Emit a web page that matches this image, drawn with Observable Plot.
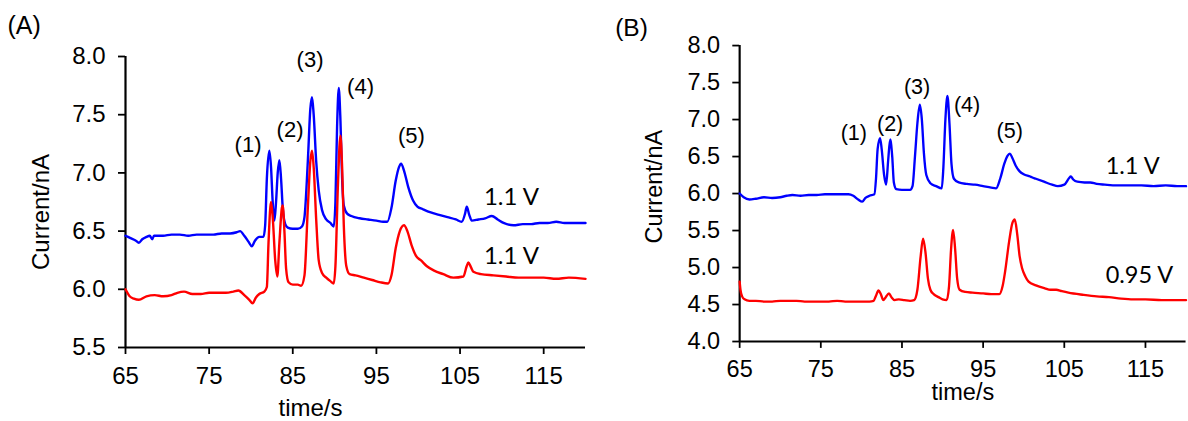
<!DOCTYPE html>
<html>
<head>
<meta charset="utf-8">
<script src="https://cdn.jsdelivr.net/npm/d3@7"></script>
<script src="https://cdn.jsdelivr.net/npm/@observablehq/plot@0.6"></script>
<style>
  html, body { margin: 0; padding: 0; background: #fff; overflow: hidden; width: 1188px; height: 421px; }
  .panel { position: absolute; top: 0; }
  #panelA { left: 0; }
  #panelB { left: 600px; }
</style>
</head>
<body>
<div id="panelA" class="panel"></div>
<div id="panelB" class="panel"></div>
<script>
// ---- Panel A: both traces recorded at 1.1 V ----
const timeA_blue = [65.0,65.6,66.2,66.6,67.0,67.5,67.9,68.2,68.4,69.5,70.5,71.5,72.5,73.5,74.5,75.5,76.5,77.5,78.3,78.7,79.2,79.7,80.1,80.5,81.0,81.5,81.7,81.9,82.2,82.4,82.6,82.8,83.0,83.2,83.4,83.6,83.8,84.1,84.4,85.0,85.6,86.1,86.4,86.8,87.1,87.3,87.5,87.8,88.1,88.5,89.0,89.5,89.9,90.1,90.3,90.5,90.7,90.9,91.1,91.5,92.0,93.0,94.0,95.0,95.8,96.3,96.8,97.3,97.7,97.95,98.3,98.8,99.4,99.9,100.5,101.5,102.5,103.5,104.5,105.2,105.6,105.8,106.1,106.4,107.2,108.0,108.8,109.5,110.2,111.4,112.5,113.5,114.5,115.5,116.5,117.5,118.5,119.5,120.0];
const currentA_blue = [6.46,6.44,6.42,6.40,6.43,6.45,6.46,6.43,6.46,6.46,6.47,6.47,6.46,6.47,6.47,6.47,6.48,6.48,6.49,6.50,6.46,6.41,6.37,6.42,6.45,6.45,6.55,6.95,7.19,7.05,6.75,6.59,6.75,7.00,7.11,6.95,6.70,6.56,6.53,6.52,6.52,6.54,6.62,7.10,7.55,7.65,7.50,7.10,6.85,6.68,6.60,6.57,6.54,6.75,7.40,7.73,7.45,6.95,6.72,6.65,6.63,6.61,6.60,6.59,6.58,6.58,6.70,6.93,7.05,7.08,7.02,6.88,6.76,6.71,6.69,6.66,6.64,6.62,6.60,6.58,6.65,6.71,6.64,6.59,6.60,6.61,6.63,6.60,6.57,6.55,6.56,6.56,6.57,6.57,6.58,6.57,6.57,6.57,6.57];

const timeA_red = [65.0,65.5,66.0,66.6,67.5,68.5,69.5,70.5,71.2,72.0,73.0,74.0,75.0,76.0,77.0,77.9,78.5,79.2,79.8,80.2,80.6,81.0,81.6,81.9,82.1,82.4,82.6,82.9,83.15,83.4,83.7,83.8,84.0,84.2,84.5,85.0,85.6,86.0,86.4,86.8,87.1,87.3,87.5,87.8,88.1,88.5,89.0,89.5,89.9,90.1,90.4,90.7,90.9,91.1,91.4,91.8,92.5,93.5,94.5,95.5,96.4,96.8,97.3,97.8,98.3,98.7,99.2,99.8,100.3,101.0,101.9,103.0,104.2,105.4,105.8,106.0,106.3,106.6,107.5,109.0,110.5,112.0,113.5,115.0,116.5,118.0,120.0];
const currentA_red = [6.00,5.94,5.92,5.91,5.94,5.95,5.94,5.95,5.97,5.98,5.96,5.96,5.97,5.97,5.97,5.98,5.99,5.95,5.91,5.88,5.93,5.96,5.98,6.02,6.40,6.75,6.62,6.25,6.11,6.40,6.70,6.72,6.50,6.18,6.06,6.04,6.04,6.03,6.12,6.70,7.10,7.19,7.05,6.60,6.25,6.14,6.10,6.07,6.05,6.20,6.90,7.32,7.05,6.55,6.20,6.13,6.12,6.10,6.08,6.06,6.05,6.12,6.35,6.50,6.55,6.50,6.38,6.28,6.25,6.20,6.16,6.13,6.10,6.11,6.20,6.23,6.19,6.15,6.13,6.12,6.11,6.10,6.10,6.10,6.09,6.10,6.09];

// ---- Panel B: 1.1 V (blue) and 0.95 V (red) ----
const timeB_blue = [65.0,65.5,66.2,67.0,68.0,69.0,70.0,70.8,71.5,72.5,73.5,74.5,75.5,76.5,77.5,78.4,79.0,79.6,80.1,80.5,81.0,81.6,81.8,82.0,82.3,82.5,82.8,83.05,83.3,83.55,83.8,84.0,84.3,85.0,86.0,86.3,86.6,86.9,87.2,87.45,87.7,88.0,88.5,89.2,89.9,90.1,90.35,90.6,90.85,91.1,91.4,92.0,93.0,94.0,95.0,96.0,96.6,97.1,97.6,98.0,98.3,98.6,99.0,99.5,100.0,100.8,101.0,101.5,102.5,103.5,104.2,105.0,105.6,105.8,106.1,106.6,107.5,108.2,109.0,110.0,111.5,113.0,114.5,116.0,117.5,118.9,120.0];
const currentB_blue = [6.00,5.95,5.92,5.93,5.95,5.94,5.95,5.97,5.98,5.97,5.98,5.98,5.99,5.99,5.99,5.99,5.97,5.92,5.89,5.94,5.97,5.99,6.20,6.60,6.75,6.60,6.25,6.12,6.45,6.73,6.50,6.15,6.06,6.05,6.05,6.10,6.50,6.95,7.20,7.00,6.55,6.25,6.14,6.10,6.07,6.35,7.00,7.32,6.95,6.40,6.20,6.15,6.13,6.12,6.10,6.08,6.07,6.20,6.40,6.51,6.54,6.48,6.38,6.30,6.26,6.23,6.22,6.20,6.16,6.12,6.10,6.12,6.21,6.23,6.19,6.16,6.15,6.15,6.13,6.12,6.11,6.11,6.11,6.10,6.11,6.10,6.10];

const timeB_red = [65.0,65.1,65.3,65.6,66.2,67.0,68.0,69.0,70.0,71.0,72.0,73.0,74.0,75.0,76.0,77.0,78.0,79.0,80.0,81.0,81.5,81.8,82.1,82.4,82.7,83.0,83.4,83.7,84.1,84.6,85.3,86.0,86.5,86.9,87.3,87.6,87.9,88.2,88.5,88.9,89.5,90.0,90.5,90.8,91.05,91.3,91.55,91.8,92.1,92.8,93.7,95.0,96.0,97.0,97.4,97.7,98.2,98.6,98.9,99.2,99.5,99.8,100.2,100.6,101.5,102.6,103.3,104.0,104.7,105.5,107.4,109.0,110.5,112.0,113.5,115.0,117.0,118.9,120.0];
const currentB_red = [4.81,4.70,4.61,4.57,4.55,4.55,4.54,4.54,4.55,4.55,4.55,4.54,4.54,4.54,4.54,4.55,4.54,4.54,4.54,4.54,4.55,4.62,4.69,4.64,4.56,4.60,4.65,4.60,4.56,4.57,4.56,4.55,4.56,4.70,5.15,5.39,5.20,4.85,4.70,4.64,4.60,4.57,4.56,4.75,5.25,5.51,5.25,4.85,4.70,4.67,4.66,4.65,4.64,4.64,4.75,4.94,5.35,5.60,5.65,5.45,5.15,4.99,4.88,4.81,4.76,4.72,4.70,4.70,4.68,4.66,4.63,4.61,4.60,4.58,4.57,4.57,4.56,4.56,4.56];

// ---- Axis ticks ----
const timeTicks = [65, 75, 85, 95, 105, 115];
const currentTicksA = [5.5, 6.0, 6.5, 7.0, 7.5, 8.0];
const currentTicksB = [4.0, 4.5, 5.0, 5.5, 6.0, 6.5, 7.0, 7.5, 8.0];

// ---- Peak annotations (time, current at text baseline) ----
const peakNames = ["(1)", "(2)", "(3)", "(4)", "(5)"];
const peakTimeA = [79.65, 84.67, 87.06, 93.10, 99.19];
const peakCurrentA = [7.18, 7.31, 7.91, 7.68, 7.26];
const peakTimeB = [79.07, 83.54, 86.86, 93.02, 98.27];
const peakCurrentB = [6.72, 6.85, 7.35, 7.10, 6.755];

// ---- Potential labels ----
const potentialNamesA = ["1.1 V", "1.1 V"];
const potentialTimeA = [107.85, 107.85];
const potentialCurrentA = [6.72, 6.22];
const potentialNamesB = ["1.1 V", "0.95 V"];
const potentialTimeB = [110.1, 110.1];
const potentialCurrentB = [6.265, 4.795];

const BLUE = "#0000ff";
const RED = "#ff0000";
const INK = "#000";

function chromatogram(cfg) {
  return Plot.plot({
    width: 600,
    height: 421,
    marginLeft: cfg.marginLeft,
    marginRight: cfg.marginRight,
    marginTop: cfg.marginTop,
    marginBottom: cfg.marginBottom,
    style: {fontFamily: "'Liberation Sans', Arial, sans-serif", background: "transparent", color: INK},
    x: {domain: [65, 120]},
    y: {domain: cfg.yDomain},
    marks: [
      Plot.axisX({ticks: timeTicks, tickSize: 7, tickPadding: 12, fontSize: 24, strokeWidth: 1.8, label: null, color: INK}),
      Plot.axisY({ticks: cfg.yTicks, tickFormat: d => d.toFixed(1), tickSize: 7, tickPadding: 13, fontSize: 24, strokeWidth: 1.8, label: null, color: INK}),
      Plot.ruleX([65], {stroke: INK, strokeWidth: 2.2}),
      Plot.ruleY([cfg.yDomain[0]], {stroke: INK, strokeWidth: 2.2}),
      Plot.line(cfg.blueT, {x: cfg.blueT, y: cfg.blueV, stroke: BLUE, strokeWidth: 2.4, curve: "monotone-x"}),
      Plot.line(cfg.redT, {x: cfg.redT, y: cfg.redV, stroke: RED, strokeWidth: 2.4, curve: "monotone-x"}),
      Plot.text(peakNames, {x: cfg.peakT, y: cfg.peakV, text: peakNames, textAnchor: "middle", lineAnchor: "bottom", fontSize: 22, fill: INK}),
      Plot.text(cfg.potNames, {x: cfg.potT, y: cfg.potV, text: cfg.potNames, textAnchor: "start", lineAnchor: "bottom", fontSize: 24, fontFamily: "Lato, 'Open Sans', sans-serif", fill: INK}),
      Plot.text(["time/s"], {frameAnchor: "bottom", text: d => d, dx: cfg.xLabelDx, dy: cfg.xLabelDy, textAnchor: "middle", lineAnchor: "bottom", fontSize: 24, fill: INK}),
      Plot.text(["Current/nA"], {frameAnchor: "left", text: d => d, rotate: -90, dx: cfg.yLabelDx, dy: cfg.yLabelDy, textAnchor: "middle", lineAnchor: "bottom", fontSize: 24, fill: INK}),
      Plot.text([cfg.panel], {frameAnchor: "top-left", text: d => d, dx: cfg.panelDx, dy: cfg.panelDy, textAnchor: "start", lineAnchor: "bottom", fontSize: 25, fill: INK})
    ]
  });
}

document.getElementById("panelA").append(chromatogram({
  panel: "(A)",
  marginLeft: 125, marginRight: 15, marginTop: 56, marginBottom: 74,
  yDomain: [5.5, 8.0], yTicks: currentTicksA,
  blueT: timeA_blue, blueV: currentA_blue, redT: timeA_red, redV: currentA_red,
  peakT: peakTimeA, peakV: peakCurrentA,
  potNames: potentialNamesA, potT: potentialTimeA, potV: potentialCurrentA,
  xLabelDx: -45, xLabelDy: 68, yLabelDx: -77, yLabelDy: 10, panelDx: -118, panelDy: -23
}));

document.getElementById("panelB").append(chromatogram({
  panel: "(B)",
  marginLeft: 142, marginRight: 2.5, marginTop: 46, marginBottom: 73,
  yDomain: [4.0, 8.0], yTicks: currentTicksB,
  blueT: timeB_blue, blueV: currentB_blue, redT: timeB_red, redV: currentB_red,
  peakT: peakTimeB, peakV: peakCurrentB,
  potNames: potentialNamesB, potT: potentialTimeB, potV: potentialCurrentB,
  xLabelDx: 0, xLabelDy: 60, yLabelDx: -79, yLabelDy: -7, panelDx: -127, panelDy: -10
}));
</script>
</body>
</html>
